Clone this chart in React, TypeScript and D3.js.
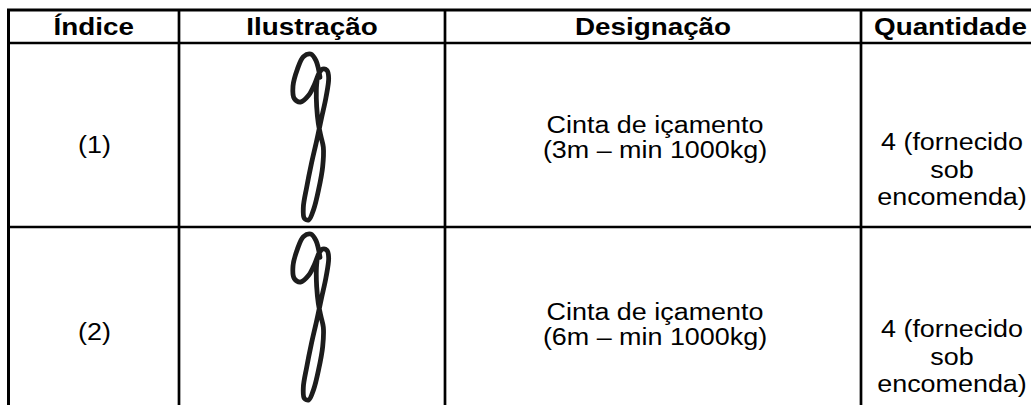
import React from "react";
import * as d3 from "d3";

// Table content
const headers = ["Índice", "Ilustração", "Designação", "Quantidade"];
const indices = ["(1)", "(2)"];
const designations = [
  ["Cinta de içamento", "(3m – min 1000kg)"],
  ["Cinta de içamento", "(6m – min 1000kg)"],
];
const quantities = [
  ["4 (fornecido", "sob", "encomenda)"],
  ["4 (fornecido", "sob", "encomenda)"],
];

// Hand-drawn sling sketch, traced in a 240 x 570 box
const slingStroke: [number, number][] = [
  [150, 112], [138, 62], [122, 42], [100, 50], [82, 88], [69, 138],
  [73, 176], [92, 186], [116, 166], [134, 132], [147, 100], [158, 87],
  [171, 91], [176, 114], [168, 172], [155, 232], [140, 302], [124, 372],
  [110, 442], [100, 502], [103, 535], [116, 540], [131, 508], [146, 448],
  [158, 380], [160, 322], [152, 286], [145, 250], [140, 200], [139, 150],
  [142, 112],
];

const W = 1031;
const H = 405;
const colEdges = [8.5, 179, 445, 861, 1040];
const rowEdges = [10, 43, 227, 411];
const FONT = "'Liberation Sans', Arial, Helvetica, sans-serif";

const App: React.FC = () => {
  const colMid = (i: number) => (colEdges[i] + colEdges[i + 1]) / 2;

  const sx = d3.scaleLinear().domain([0, 240]).range([270, 350]);
  const sy = d3.scaleLinear().domain([0, 570]).range([40, 230]);
  const line = d3
    .line<[number, number]>()
    .x((d) => sx(d[0]))
    .y((d) => sy(d[1]))
    .curve(d3.curveCatmullRom.alpha(0.5));

  const text = (
    key: string,
    x: number,
    y: number,
    label: string,
    bold = false
  ) => (
    <text
      key={key}
      transform={`translate(${x},${y}) scale(${bold ? 1.21 : 1.17},1)`}
      textAnchor="middle"
      fontFamily={FONT}
      fontSize={23}
      fontWeight={bold ? "bold" : "normal"}
      fill="#000"
    >
      {label}
    </text>
  );

  return (
    <svg
      width={W}
      height={H}
      style={{ position: "absolute", left: 0, top: 0, background: "#fff" }}
    >
      <rect width={W} height={H} fill="#fff" />

      {/* grid */}
      {rowEdges.map((y, i) => (
        <line key={`r${i}`} x1={colEdges[0] - 1.5} x2={colEdges[4]} y1={y} y2={y} stroke="#000" strokeWidth={i === 0 ? 3 : 2.7} />
      ))}
      {colEdges.map((x, i) => (
        <line key={`c${i}`} x1={x} x2={x} y1={rowEdges[0]} y2={rowEdges[3]} stroke="#000" strokeWidth={i === 0 ? 3 : 2.7} />
      ))}

      {/* header */}
      {headers.map((h, i) => text(`h${i}`, colMid(i), 35, h, true))}

      {indices.map((idx, r) => {
        const dy = r * 187;
        return (
          <g key={`row${r}`}>
            {text(`i${r}`, 94.5, 152.5 + dy, idx)}
            <path
              d={line(slingStroke) || ""}
              transform={`translate(0,${r * 180})`}
              fill="none"
              stroke="#1c1c1c"
              strokeWidth={4.8}
              strokeLinecap="round"
              strokeLinejoin="round"
            />
            {designations[r].map((t, k) => text(`d${r}${k}`, 655, 133 + k * 25 + dy, t))}
            {quantities[r].map((t, k) => text(`q${r}${k}`, 952, 150 + k * 27.5 + dy, t))}
          </g>
        );
      })}
    </svg>
  );
};

export default App;
